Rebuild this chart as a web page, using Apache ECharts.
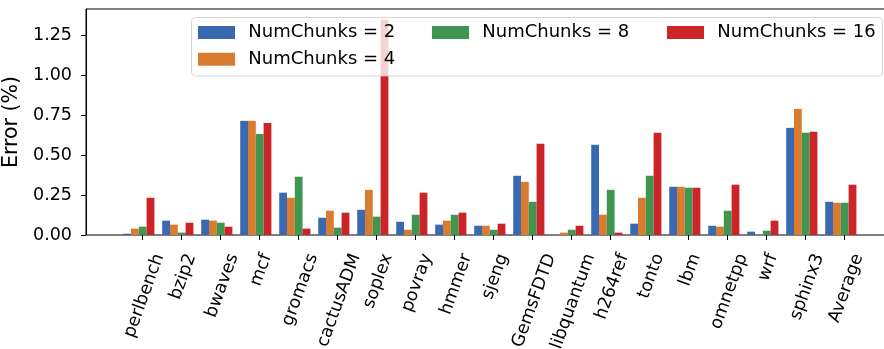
<!DOCTYPE html>
<html><head><meta charset="utf-8">
<script src="https://cdn.jsdelivr.net/npm/echarts@6/dist/echarts.min.js"></script>
<style>html,body{margin:0;padding:0;background:#fff}#c{width:884px;height:349px}</style>
</head><body><div id="c"></div>
<script>
const categories = ['perlbench','bzip2','bwaves','mcf','gromacs','cactusADM','soplex','povray','hmmer','sjeng','GemsFDTD','libquantum','h264ref','tonto','lbm','omnetpp','wrf','sphinx3','Average'];
const chunks2  = [0.008,0.090,0.096,0.715,0.265,0.108,0.158,0.083,0.065,0.058,0.371,0.000,0.565,0.071,0.302,0.058,0.021,0.671,0.208];
const chunks4  = [0.040,0.065,0.090,0.715,0.233,0.152,0.283,0.033,0.090,0.058,0.333,0.015,0.127,0.233,0.302,0.052,0.000,0.790,0.202];
const chunks8  = [0.052,0.015,0.077,0.633,0.365,0.046,0.115,0.127,0.127,0.033,0.208,0.033,0.283,0.371,0.296,0.152,0.027,0.640,0.202];
const chunks16 = [0.233,0.077,0.052,0.702,0.040,0.140,1.348,0.265,0.140,0.071,0.571,0.058,0.015,0.640,0.296,0.315,0.090,0.646,0.315];
const seriesNames = ['NumChunks = 2','NumChunks = 4','NumChunks = 8','NumChunks = 16'];
const yTicks = [0, 0.25, 0.5, 0.75, 1.0, 1.25];
const yTitle = 'Error (%)';

const colors = ['#396AB1','#DA7C30','#3E9651','#CC2529'];
const allSeries = [chunks2, chunks4, chunks8, chunks16];
const FS = 17.5;
const LFS = 18;
const TFS = 20.5;
const FAMILY = '"DejaVu Sans"';
const yMax = Math.max(...allSeries.flat()) * 1.05;

// matplotlib-like rotated tick labels: rotated bbox centred on the tick, top at a fixed pad.
const ctx = document.createElement('canvas').getContext('2d');
ctx.font = FS + 'px ' + FAMILY;
const th = 70 * Math.PI / 180;
const lineH = 1.17 * FS;
const LIFT = 10;   // anchor sits this far above the bbox top
const DX = 1.5;    // small horizontal nudge
const rich = {};
categories.forEach(function (c, i) {
  const L = ctx.measureText(c).width;
  const H = L * Math.sin(th) + lineH * Math.cos(th);
  const cx = DX, cy = H / 2 + LIFT;
  const a = cx * Math.cos(th) - cy * Math.sin(th);
  const b = cx * Math.sin(th) + cy * Math.cos(th);
  const pr = Math.max(0, -a - L / 2);
  const pt = Math.max(0, 2 * b);
  rich['p' + i] = { fontSize: FS, color: '#000', fontFamily: FAMILY, padding: [pt, pr, 0, 0] };
});

const barW = 7.8;
const series = allSeries.map(function (d, i) {
  return { type: 'bar', name: seriesNames[i], data: d, xAxisIndex: 1, yAxisIndex: 1,
    barWidth: barW, barGap: '0%', itemStyle: { color: colors[i] }, z: 2 };
});
// empty fifth slot: matplotlib ticks sit at x + 2*width
series.push({ type: 'bar', name: '_spacer', data: categories.map(function () { return null; }),
  xAxisIndex: 1, yAxisIndex: 1, barWidth: barW, barGap: '0%', silent: true });

const legendPos = [[198, 23.5], [198, 50.2], [432, 23.5], [667, 23.5]];
const legends = seriesNames.map(function (n, i) {
  return { data: [n], left: legendPos[i][0], top: legendPos[i][1], padding: 0,
    itemWidth: 37, itemHeight: 13, icon: 'rect', selectedMode: false,
    textStyle: { fontSize: LFS, color: '#000', fontFamily: FAMILY, padding: [0, 0, 0, 8.3] }, z: 5 };
});

const chart = echarts.init(document.getElementById('c'), null, { renderer: 'canvas' });
chart.setOption({
  animation: false,
  textStyle: { fontFamily: FAMILY },
  grid: [
    { left: 86, top: 9, width: 806.5, height: 226, show: true, borderColor: '#000', borderWidth: 1,
      backgroundColor: 'transparent', outerBoundsMode: 'none', containLabel: false },
    { left: 123.2, top: 9, width: 741, height: 226, outerBoundsMode: 'none', containLabel: false }
  ],
  xAxis: [
    { gridIndex: 0, type: 'value', min: 0, max: 1, show: false },
    { gridIndex: 1, type: 'category', data: categories, boundaryGap: true,
      axisLine: { show: false },
      axisTick: { show: true, alignWithLabel: true, length: 5, lineStyle: { color: '#000', width: 1 } },
      axisLabel: { interval: 0, rotate: 70, margin: 6, align: 'right', verticalAlign: 'middle',
        fontSize: FS, color: '#000', fontFamily: FAMILY, rich: rich,
        formatter: function (v, i) { return '{p' + i + '|' + v + '}'; } },
      splitLine: { show: false } }
  ],
  yAxis: [
    { gridIndex: 0, type: 'value', min: 0, max: yMax,
      axisLine: { show: true, lineStyle: { color: '#000', width: 1 } },
      axisTick: { show: true, length: 5, lineStyle: { color: '#000', width: 1 }, customValues: yTicks },
      axisLabel: { customValues: yTicks, fontSize: FS, color: '#000', margin: 14, fontFamily: FAMILY,
        formatter: function (v) { return v.toFixed(2); } },
      splitLine: { show: false },
      name: yTitle, nameLocation: 'middle', nameRotate: 90, nameGap: 62,
      nameTextStyle: { fontSize: TFS, color: '#000', fontFamily: FAMILY } },
    { gridIndex: 1, type: 'value', min: 0, max: yMax, show: false, splitLine: { show: false } }
  ],
  legend: legends,
  graphic: [{ type: 'rect', z: 3, silent: true,
    shape: { x: 191.5, y: 17.5, width: 691, height: 58.5, r: 4 },
    style: { fill: 'rgba(255,255,255,0.8)', stroke: 'rgba(204,204,204,0.8)', lineWidth: 1 } }],
  series: series
});
</script></body></html>
